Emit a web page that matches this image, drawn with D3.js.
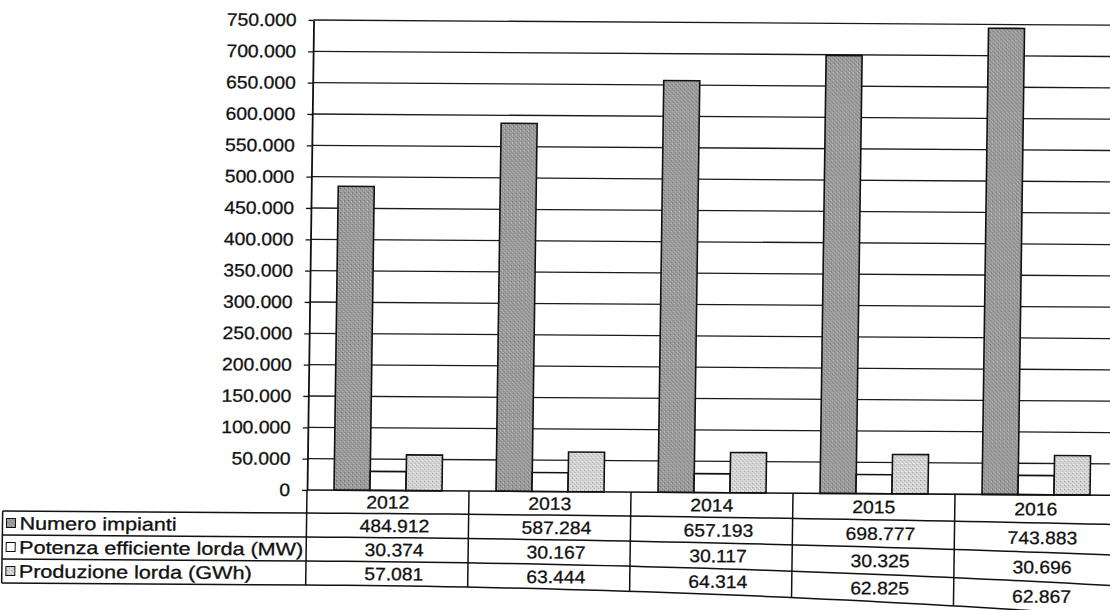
<!DOCTYPE html>
<html><head><meta charset="utf-8">
<script src="https://cdn.jsdelivr.net/npm/d3@7"></script>
<style>
body{margin:0;background:#fff;}
svg{display:block;}
text{font-family:"Liberation Sans",Arial,sans-serif;fill:#111;stroke:#111;stroke-width:0.3px;}
</style>
</head><body>
<svg id="c" width="1110" height="610"></svg>
<script>
const years = ["2012","2013","2014","2015","2016"];
const seriesNames = ["Numero impianti","Potenza efficiente lorda (MW)","Produzione lorda (GWh)"];
const numeroImpianti = [484912,587284,657193,698777,743883];
const potenzaMW = [30374,30167,30117,30325,30696];
const produzioneGWh = [57081,63444,64314,62825,62867];
const yTicks = [0,50000,100000,150000,200000,250000,300000,350000,400000,450000,500000,550000,600000,650000,700000,750000];

const seriesValues = [numeroImpianti, potenzaMW, produzioneGWh];
const seriesFill = ["url(#patDark)", "#ffffff", "url(#patLight)"];

const it = d3.formatLocale({decimal:",", thousands:".", grouping:[3], currency:["€",""]});
const fmt = it.format(",d");

const svg = d3.select("#c");
const defs = svg.append("defs");
function makePat(id, base, dot, dot2){
  const p = defs.append("pattern").attr("id", id).attr("patternUnits","userSpaceOnUse")
    .attr("width",4).attr("height",4);
  p.append("rect").attr("width",4).attr("height",4).attr("fill",base);
  p.append("rect").attr("x",0).attr("y",0).attr("width",1).attr("height",1).attr("fill",dot);
  p.append("rect").attr("x",2).attr("y",2).attr("width",1).attr("height",1).attr("fill",dot);
  p.append("rect").attr("x",1).attr("y",3).attr("width",1).attr("height",1).attr("fill",dot2);
  p.append("rect").attr("x",3).attr("y",1).attr("width",1).attr("height",1).attr("fill",dot2);
}
makePat("patDark", "#9a9a9a", "#666", "#cfcfcf");
makePat("patLight", "#d6d6d6", "#8f8f8f", "#f4f4f4");

const X0 = 307, Y0 = 490, YTOP = 20, BW = 162;
const x = d3.scaleBand().domain(years).range([X0, X0 + BW*years.length]).paddingInner(0).paddingOuter(0);
const xs = d3.scaleBand().domain(d3.range(seriesNames.length)).range([0, x.bandwidth()])
  .paddingInner(0).paddingOuter(0.75);
const y = d3.scaleLinear().domain([0, 750000]).range([Y0, YTOP]);

// slight scan distortion: shear + tilt
const g = svg.append("g")
  .attr("transform", `translate(${X0},${Y0}) matrix(1,0.0065,-0.014,1,0,0) translate(${-X0},${-Y0})`);

function stretch(sel, k){
  sel.each(function(){
    const l = this.getComputedTextLength();
    this.setAttribute("textLength", l*k);
    this.setAttribute("lengthAdjust", "spacingAndGlyphs");
  });
}
const FS = 18, SK_NUM = 1.07, SK_LAB = 1.2;

// gridlines
g.append("g").selectAll("line").data(yTicks.filter(d=>d>0)).join("line")
  .attr("x1", X0).attr("x2", 1130).attr("y1", d=>y(d)).attr("y2", d=>y(d))
  .attr("stroke", "#1a1a1a").attr("stroke-width", 1.3);

// y axis
const ax = g.append("g").attr("transform", `translate(${X0},0)`)
  .call(d3.axisLeft(y).tickValues(yTicks).tickFormat(fmt).tickSize(5).tickSizeOuter(0).tickPadding(12));
ax.select(".domain").attr("stroke","#111").attr("stroke-width",1.8);
ax.selectAll(".tick line").attr("stroke","#111").attr("stroke-width",1.3);
ax.selectAll("text").attr("font-size", FS).style("font-family",'"Liberation Sans",Arial,sans-serif').attr("fill","#111");
stretch(ax.selectAll("text"), SK_NUM);

// bars
const bars = [];
years.forEach((yr, i) => seriesValues.forEach((vals, s) => bars.push({yr, s, v: vals[i]})));
g.append("g").selectAll("rect").data(bars).join("rect")
  .attr("x", d => x(d.yr) + xs(d.s))
  .attr("width", xs.bandwidth())
  .attr("y", d => y(d.v))
  .attr("height", d => Y0 - y(d.v))
  .attr("fill", d => seriesFill[d.s])
  .attr("stroke", "#111").attr("stroke-width", 1.6);

// zero line
g.append("line").attr("x1", X0).attr("x2", 1130).attr("y1", Y0).attr("y2", Y0)
  .attr("stroke","#111").attr("stroke-width",1.6);

// data table (rows grow toward the right, like the scanned page)
const HEAD_H = 23, ROW_H = 24, LEFT = 3;
const grow = xx => { const t = Math.max(0, (xx - X0)/725); return 1 + 0.22*t*t; };
const off = i => HEAD_H + i*ROW_H;
const rowY = (i, xx) => Y0 + off(i)*grow(xx);
const midY = (o, xx) => Y0 + o*grow(xx);
const tb = g.append("g");
const lineGen = d3.line();
const xsamp = [LEFT].concat(d3.range(X0, 1131, 20));
tb.selectAll("path.h").data([0,1,2,3]).join("path").attr("class","h")
  .attr("d", i => lineGen(xsamp.map(xx => [xx, rowY(i, xx)])))
  .attr("fill","none").attr("stroke","#111").attr("stroke-width",1.5);
const vX = years.map(yr => x(yr)).concat([x(years[years.length-1]) + BW]);
tb.selectAll("line.v").data(vX).join("line").attr("class","v")
  .attr("x1", d=>d).attr("x2", d=>d).attr("y1", Y0).attr("y2", d => rowY(3, d))
  .attr("stroke","#111").attr("stroke-width",1.5);
tb.append("line").attr("x1", LEFT).attr("x2", LEFT).attr("y1", rowY(0, LEFT)).attr("y2", rowY(3, LEFT))
  .attr("stroke","#111").attr("stroke-width",1.5);

// header years
const yt = tb.selectAll("text.yr").data(years).join("text").attr("class","yr")
  .attr("x", d => x(d) + BW/2).attr("y", d => midY(HEAD_H/2, x(d) + BW/2))
  .attr("dy","0.36em").attr("text-anchor","middle").attr("font-size", FS).text(d=>d);
stretch(yt, SK_NUM);

// row headers with legend keys, and values
seriesNames.forEach((name, s) => {
  const o = off(s) + ROW_H/2;
  const cy = midY(o, LEFT);
  tb.append("rect").attr("x", LEFT+4).attr("y", cy-4.5).attr("width", 9).attr("height", 9)
    .attr("fill", seriesFill[s]).attr("stroke","#111").attr("stroke-width",1);
  const t = tb.append("text").attr("x", LEFT+17).attr("y", cy).attr("dy","0.36em")
    .attr("font-size", FS).text(name);
  stretch(t, SK_LAB);
  const vt = tb.selectAll("text.v"+s).data(seriesValues[s]).join("text").attr("class","v"+s)
    .attr("x", (d,i) => x(years[i]) + BW/2 + 7)
    .attr("y", (d,i) => midY(o, x(years[i]) + BW/2)).attr("dy","0.36em")
    .attr("text-anchor","middle").attr("font-size", FS).text(d => fmt(d));
  stretch(vt, SK_NUM);
});
</script>
</body></html>
